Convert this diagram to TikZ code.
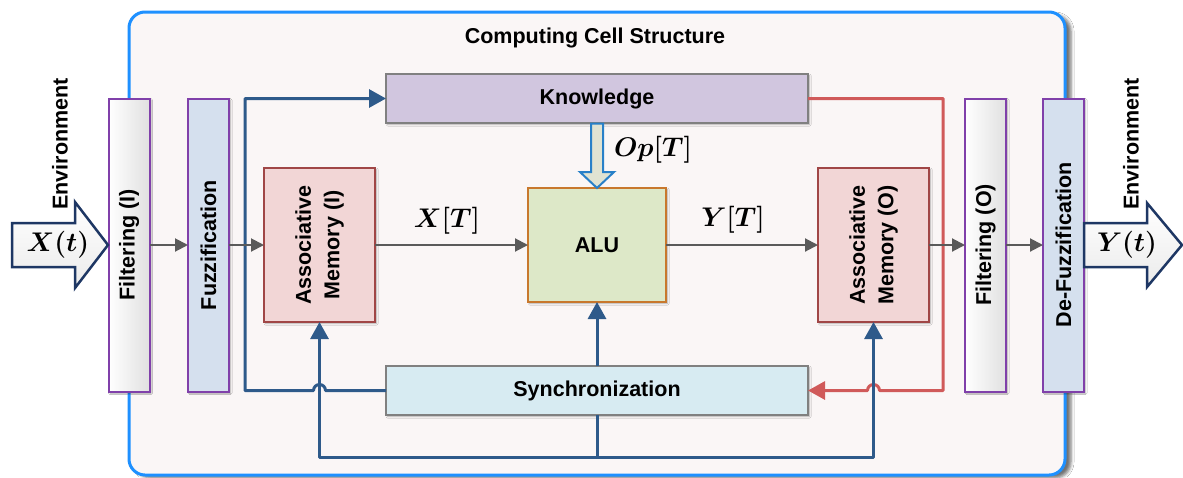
\RequirePackage{fix-cm}
\documentclass[tikz,border=0pt]{standalone}
\usepackage{fontspec}
\usetikzlibrary{arrows.meta,calc,shadows.blur}
\newfontfamily\labelfont{Liberation Sans}

\definecolor{framebl}{RGB}{30,144,255}
\definecolor{framefill}{RGB}{250,246,246}
\definecolor{barpurple}{RGB}{128,64,170}
\definecolor{fuzzblue}{RGB}{213,224,238}
\definecolor{knowfill}{RGB}{209,198,223}
\definecolor{syncfill}{RGB}{215,235,242}
\definecolor{memfill}{RGB}{242,214,214}
\definecolor{memred}{RGB}{160,70,70}
\definecolor{alufill}{RGB}{221,232,200}
\definecolor{aluorange}{RGB}{200,120,45}
\definecolor{boxgray}{RGB}{128,128,128}
\definecolor{busblue}{RGB}{46,90,138}
\definecolor{busred}{RGB}{208,90,90}
\definecolor{flowgray}{RGB}{90,90,90}
\definecolor{ionavy}{RGB}{30,55,100}
\definecolor{opblue}{RGB}{40,128,200}
\definecolor{opfill}{RGB}{224,227,210}

\tikzset{
  every node/.style={inner sep=0pt, outer sep=0pt},
  lbl/.style={font=\labelfont\bfseries\fontsize{21.5}{28.5}\selectfont, text=black},
  mathlbl/.style={font=\fontsize{27}{32}\selectfont\boldmath, text=black},
  boxshadow/.style={blur shadow={shadow xshift=1.5pt, shadow yshift=-1.5pt,
      shadow blur radius=1.5pt, shadow opacity=30}},
  cellframe/.style={draw=framebl, fill=framefill, line width=3pt, rounded corners=16pt,
      blur shadow={shadow xshift=6pt, shadow yshift=-3pt, shadow blur radius=3pt,
      shadow opacity=55}},
  purplebar/.style={lbl, draw=barpurple, line width=2pt, minimum width=41pt,
      minimum height=293pt, boxshadow},
  filtbar/.style={purplebar, left color=white, right color=black!12},
  fuzzbar/.style={purplebar, fill=fuzzblue},
  membox/.style={lbl, draw=memred, fill=memfill, line width=2pt, minimum width=111pt,
      minimum height=154pt, boxshadow},
  alubox/.style={lbl, draw=aluorange, fill=alufill, line width=2pt, minimum width=138pt,
      minimum height=114pt, boxshadow},
  widebox/.style={lbl, draw=boxgray, line width=1.5pt, minimum width=422pt,
      minimum height=49pt, boxshadow},
  bluebus/.style={draw=busblue, line width=3pt, line join=round},
  redbus/.style={draw=busred, line width=3pt, line join=round},
  bustip/.style={-{Triangle[length=17pt,width=18pt]}},
  flow/.style={draw=flowgray, line width=2pt, -{Triangle[length=13pt,width=13pt]}},
  ioarrow/.style={draw=ionavy, line width=2.5pt, line join=miter, top color=white,
      bottom color=black!8},
  oparrow/.style={draw=opblue, line width=2pt, fill=opfill, line join=miter},
}

\newcommand\stackedlabel[2]{\rotatebox{90}{\begin{tabular}{@{}c@{}}#1\\#2\end{tabular}}}

\begin{document}
\begin{tikzpicture}[x=1pt,y=-1pt]
\useasboundingbox (0,0) rectangle (1183,477);
\fill[white] (0,0) rectangle (1183,477);

% enclosing cell
\draw[cellframe] (129,12) rectangle (1065,475);
\node[lbl] (title) at (595,38) {Computing Cell Structure};

% processing stages
\node[filtbar] (filI) at (129,245) {\rotatebox{90}{Filtering (I)}};
\node[fuzzbar] (fuzz) at (208.5,245) {\rotatebox{90}{Fuzzification}};
\node[membox] (amI) at (319.5,245) {\stackedlabel{Associative}{Memory (I)}};
\node[alubox] (alu) at (597,245) {ALU};
\node[membox] (amO) at (873.5,245) {\stackedlabel{Associative}{Memory (O)}};
\node[filtbar] (filO) at (985.5,245) {\rotatebox{90}{Filtering (O)}};
\node[fuzzbar] (defuzz) at (1063.5,245) {\rotatebox{90}{De-Fuzzification}};
\node[widebox, fill=knowfill] (know) at (597,98.5) {Knowledge};
\node[widebox, fill=syncfill] (sync) at (597,390.5) {Synchronization};

% bus positions
\coordinate (lbus) at (245,0);
\coordinate (rbus) at (943,0);
\coordinate (bot) at (0,457);

% feedback loops
\draw[bluebus, bustip] (sync.west)
  -- ($(amI.south |- sync.west)+(6,0)$) arc[start angle=0, end angle=180, radius=6pt]
  -- (lbus |- sync.west) -- (lbus |- know.west) -- (know.west);
\draw[redbus, bustip] (know.east) -- (rbus |- know.east) -- (rbus |- sync.east)
  -- ($(amO.south |- sync.east)+(6,0)$) arc[start angle=0, end angle=180, radius=6pt]
  -- (sync.east);

% synchronization distribution
\draw[bluebus] (sync.south) -- (sync.south |- bot);
\draw[bluebus, bustip] (sync.south |- bot) -- (amI.south |- bot) -- (amI.south);
\draw[bluebus, bustip] (sync.south |- bot) -- (amO.south |- bot) -- (amO.south);
\draw[bluebus, bustip] (sync.north) -- (alu.south);

% data path
\draw[flow] (filI.east) -- (fuzz.west);
\draw[flow] (fuzz.east) -- (amI.west);
\draw[flow] (amI.east) -- (alu.west);
\draw[flow] (alu.east) -- (amO.west);
\draw[flow] (amO.east) -- (filO.west);
\draw[flow] (filO.east) -- (defuzz.west);

% operation code from knowledge
\draw[oparrow] (591,123.5) -- (603,123.5) -- (603,172) -- (614,172) -- (597,188)
  -- (580,172) -- (591,172) -- cycle;
\node[mathlbl, anchor=west] (opl) at (614,150) {$Op[T]$};
\node[mathlbl] (xtl) at (447,221) {$X[T]$};
\node[mathlbl] (ytl) at (733,220) {$Y[T]$};

% environment input and output
\draw[ioarrow] (12,223) -- (75,223) -- (75,202) -- (108,245) -- (75,288) -- (75,267)
  -- (12,267) -- cycle;
\node[mathlbl] (xin) at (58,245) {$X(t)$};
\draw[ioarrow] (1084,223) -- (1147,223) -- (1147,203) -- (1182,245) -- (1147,287)
  -- (1147,267) -- (1084,267) -- cycle;
\node[mathlbl] (yout) at (1127,245) {$Y(t)$};
\node[lbl, rotate=90] (envL) at (60,144) {Environment};
\node[lbl, rotate=90] (envR) at (1131,144) {Environment};
\end{tikzpicture}
\end{document}
